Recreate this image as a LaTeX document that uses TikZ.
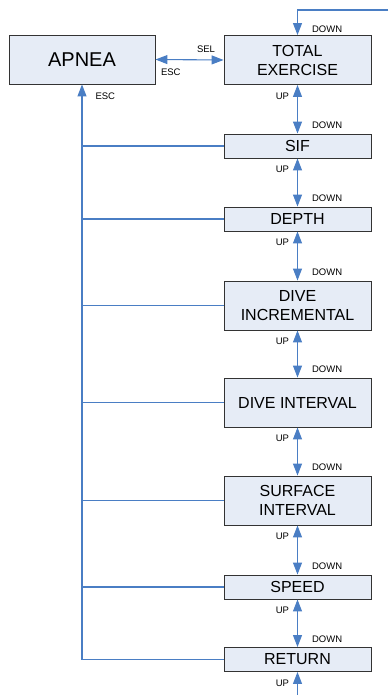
\documentclass[tikz,border=0pt]{standalone}
\usepackage{fontspec}
\setmainfont{Liberation Sans}
\usetikzlibrary{arrows.meta}
\definecolor{lineblue}{HTML}{4A7EC4}
\definecolor{boxfill}{HTML}{E6ECF6}
\begin{document}
\begin{tikzpicture}[x=1pt, y=-1pt,
  menu/.style={rectangle, draw=black!80, fill=boxfill, line width=0.9pt, minimum width=147pt, minimum height=24pt, align=center, inner sep=1pt, font=\fontsize{16}{19}\selectfont},
  tall/.style={minimum height=49pt},
  lbl/.style={font=\fontsize{9.5}{11}\selectfont, inner sep=0pt, text=black},
  link/.style={lineblue, line width=1.1pt},
  arrow/.style={link, -{Triangle[length=12pt, width=9pt]}},
  both/.style={link, {Triangle[length=12pt, width=9pt]}-{Triangle[length=12pt, width=9pt]}}
]
\useasboundingbox (0,0) rectangle (388,695);

\node[menu, tall, minimum width=146pt, font=\fontsize{20}{24}\selectfont] (apnea) at (82,59.5) {APNEA};
\node[menu, tall] (total) at (297.5,60) {TOTAL\\EXERCISE};
\node[menu] (sif) at (297.5,146) {SIF};
\node[menu] (depth) at (297.5,219) {DEPTH};
\node[menu, tall] (diveinc) at (297.5,305.5) {DIVE\\INCREMENTAL};
\node[menu, tall] (diveint) at (297.5,402.5) {DIVE INTERVAL};
\node[menu, tall] (surface) at (297.5,500.5) {SURFACE\\INTERVAL};
\node[menu] (speed) at (297.5,587) {SPEED};
\node[menu] (return) at (297.5,659.5) {RETURN};

\coordinate (in) at (388,10);
\coordinate (out) at (297.5,695);

% entry and exit of the list
\draw[arrow] (in) -| (total.north)
  node[pos=1, lbl, anchor=west, xshift=14pt, yshift=6pt] {DOWN};
\draw[arrow] (out) -- (return.south)
  node[pos=1, lbl, anchor=east, xshift=-8pt, yshift=-11pt] {UP};

% select / escape
\draw[both] (apnea.east) -- (total.west)
  node[pos=1, lbl, anchor=east, xshift=-8pt, yshift=11pt] {SEL}
  node[pos=0, lbl, anchor=west, xshift=5pt, yshift=-13pt] {ESC};

% up / down between items
\draw[both] (total.south) -- (sif.north)
  node[pos=0, lbl, anchor=east, xshift=-8pt, yshift=-11pt] {UP}
  node[pos=1, lbl, anchor=west, xshift=14pt, yshift=8pt] {DOWN};
\draw[both] (sif.south) -- (depth.north)
  node[pos=0, lbl, anchor=east, xshift=-8pt, yshift=-11pt] {UP}
  node[pos=1, lbl, anchor=west, xshift=14pt, yshift=8pt] {DOWN};
\draw[both] (depth.south) -- (diveinc.north)
  node[pos=0, lbl, anchor=east, xshift=-8pt, yshift=-11pt] {UP}
  node[pos=1, lbl, anchor=west, xshift=14pt, yshift=8pt] {DOWN};
\draw[both] (diveinc.south) -- (diveint.north)
  node[pos=0, lbl, anchor=east, xshift=-8pt, yshift=-11pt] {UP}
  node[pos=1, lbl, anchor=west, xshift=14pt, yshift=8pt] {DOWN};
\draw[both] (diveint.south) -- (surface.north)
  node[pos=0, lbl, anchor=east, xshift=-8pt, yshift=-11pt] {UP}
  node[pos=1, lbl, anchor=west, xshift=14pt, yshift=8pt] {DOWN};
\draw[both] (surface.south) -- (speed.north)
  node[pos=0, lbl, anchor=east, xshift=-8pt, yshift=-11pt] {UP}
  node[pos=1, lbl, anchor=west, xshift=14pt, yshift=8pt] {DOWN};
\draw[both] (speed.south) -- (return.north)
  node[pos=0, lbl, anchor=east, xshift=-8pt, yshift=-11pt] {UP}
  node[pos=1, lbl, anchor=west, xshift=14pt, yshift=8pt] {DOWN};

% escape back to apnea
\draw[arrow] (return.west) -| (apnea.south)
  node[pos=1, lbl, anchor=west, xshift=13pt, yshift=-12pt] {ESC};
\draw[link] (sif.west) -- (sif.west -| apnea.south);
\draw[link] (depth.west) -- (depth.west -| apnea.south);
\draw[link] (diveinc.west) -- (diveinc.west -| apnea.south);
\draw[link] (diveint.west) -- (diveint.west -| apnea.south);
\draw[link] (surface.west) -- (surface.west -| apnea.south);
\draw[link] (speed.west) -- (speed.west -| apnea.south);
\end{tikzpicture}
\end{document}
